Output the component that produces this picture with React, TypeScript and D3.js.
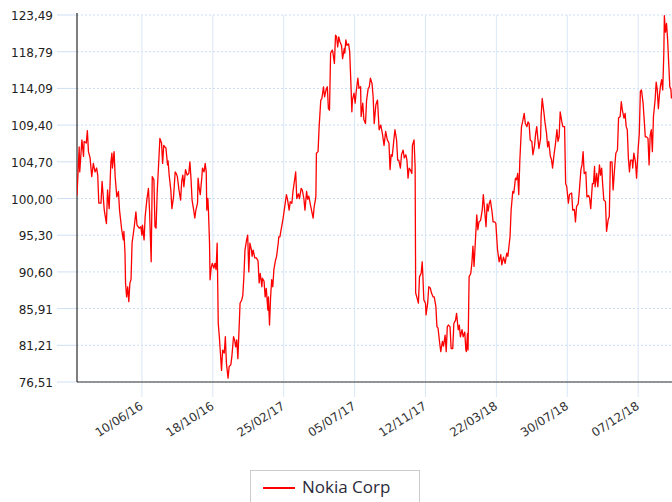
import React from 'react'
import * as d3 from 'd3'

// trading series, day offsets from the first date + closing level
const startDate = new Date(2016, 1, 12)
const totalDays = 1091

const days = [
  0, 4, 5, 9, 12, 13, 17, 19, 21, 24, 27, 30, 33, 36, 38, 40, 44, 46, 50, 53,
  54, 56, 59, 62, 64, 65, 68, 70, 73, 76, 78, 82, 85, 86, 88, 89, 91, 93, 95, 97,
  99, 101, 105, 108, 110, 114, 117, 119, 120, 123, 125, 128, 131, 133, 136, 138, 141, 143, 145, 147,
  150, 152, 155, 157, 159, 161, 163, 166, 167, 169, 172, 174, 177, 180,
  182, 184, 187, 190, 192, 194, 196, 199, 202, 205, 207, 209, 211, 214, 216, 218, 221, 222, 224, 226,
  229, 230, 233, 235, 237, 238, 240, 241, 243, 244, 246, 248, 251, 253, 255, 257, 259, 261, 263, 265,
  267, 270, 272, 274, 277, 279, 282, 284, 287, 289, 291, 293, 295, 297, 299, 302, 304, 306, 308, 311,
  313, 315, 317, 320, 321, 323, 326, 329, 332, 334, 336, 339, 340, 343, 345, 347, 350, 351, 353, 355,
  357, 359, 361, 364, 366, 369, 370, 372,
  378, 381, 384, 386, 389, 391, 394, 396, 399, 401, 403, 406, 408, 411, 413, 416, 418, 421, 423, 425,
  428, 430, 433, 435, 438, 439, 442, 444, 447, 449, 452, 454, 457, 459, 461, 463, 465, 468, 469, 472,
  474, 476, 478, 480, 482, 485, 487, 490, 491, 493, 495, 498, 500, 502, 504, 505, 508, 510, 512, 515,
  517, 520, 521, 524, 526, 529, 531, 534, 536, 538, 541, 543, 545, 548,
  551, 554, 557, 560, 563, 566, 569, 572, 574, 576, 578, 581, 583, 586, 588, 590, 593, 595, 598, 600,
  603, 605, 607, 609, 611, 614, 615, 618, 620, 621, 623, 626, 628, 631, 633, 634, 636, 639, 640, 643,
  645, 648, 650, 653, 655, 658, 660, 662, 665, 667, 670, 672, 675, 677, 679, 681, 684, 686, 689, 691,
  694, 696, 699, 701, 703, 706, 708, 711, 713, 714, 716, 717, 719, 722, 724, 726, 728, 730, 733, 735,
  737, 740, 743, 745, 747, 750, 752, 754, 756, 758, 761, 763, 766, 768,
  771, 774, 777, 779, 782, 785, 788, 790, 794, 796, 799, 801, 804, 806, 808, 810, 812, 815, 817, 820,
  822, 825, 827, 829, 831, 834, 836, 839, 841, 843, 845, 847, 850, 851, 853, 856, 858, 861, 863, 865,
  868, 870, 872, 875, 877, 880, 882, 884, 886, 889, 891, 894, 896, 898, 901, 903,
  907, 909, 912, 914, 916, 919, 921, 924, 926, 928, 930, 933, 935, 938, 940, 942, 945, 947, 949, 950,
  953, 955, 958, 960, 962, 964, 966, 969, 971, 974, 976, 978, 981, 983, 986, 988, 991, 993, 996, 998,
  1000, 1003, 1005, 1007, 1009, 1011, 1013, 1015, 1018, 1019, 1021, 1024, 1026, 1029, 1031, 1033, 1035, 1038, 1040, 1042,
  1044, 1047, 1049, 1051, 1053, 1055, 1057, 1060, 1062, 1064, 1066, 1068, 1070, 1072, 1074, 1076, 1077, 1079, 1081, 1083,
  1085, 1087, 1089, 1090,
]

const prices = [
  100.4, 106.6, 103.4, 107.5, 105.4, 107.3, 107.1, 108.7, 106.0, 105.2, 102.8, 104.5, 103.4, 103.9, 103.0, 99.4, 99.4, 102.2, 98.5, 97.2,
  96.8, 101.1, 98.7, 104.5, 105.8, 103.9, 106.0, 102.8, 100.2, 100.9, 98.5, 96.0, 94.7, 95.8, 93.0, 89.2, 87.4, 88.7, 86.8, 89.2,
  89.6, 94.3, 96.4, 98.3, 96.6, 96.2, 96.4, 95.3, 96.6, 94.7, 97.7, 99.8, 101.3, 98.5, 91.9, 102.8, 102.4, 96.4, 96.2, 100.7,
  104.9, 107.7, 107.1, 104.5, 106.8, 106.6, 106.5, 104.3, 104.8, 103.0, 101.1, 98.7, 100.2, 103.4,
  103.2, 102.8, 101.1, 99.8, 102.2, 103.0, 101.5, 103.7, 103.0, 103.2, 104.7, 102.6, 99.8, 98.5, 97.5, 98.5, 99.4, 102.6, 101.3, 100.5,
  102.8, 103.9, 103.4, 104.5, 103.4, 98.5, 100.0, 98.5, 94.3, 89.6, 91.1, 91.7, 91.1, 91.7, 90.9, 94.3, 84.0, 82.3, 80.2, 78.0,
  80.6, 80.2, 82.3, 78.9, 77.0, 78.5, 78.7, 79.8, 82.3, 81.9, 81.0, 81.9, 79.5, 83.0, 86.6, 87.0, 87.6, 90.0, 93.4, 94.7,
  95.3, 90.6, 94.3, 93.4, 92.6, 93.4, 92.4, 92.4, 92.0, 89.2, 90.4, 88.7, 89.8, 89.4, 87.4, 88.5, 85.7, 87.4, 83.8, 87.4,
  89.6, 88.7, 90.9, 92.1, 92.6, 94.3, 95.1, 95.1,
  97.5, 99.0, 100.5, 99.9, 98.5, 99.6, 99.4, 100.9, 102.4, 103.4, 100.0, 100.6, 100.0, 101.3, 101.1, 100.0, 98.5, 100.9, 99.9, 100.3,
  99.2, 98.5, 97.5, 99.0, 100.2, 105.8, 106.0, 109.2, 112.6, 112.8, 114.3, 113.0, 114.0, 114.3, 111.5, 111.3, 118.6, 119.0, 118.8, 117.3,
  120.9, 120.7, 119.4, 120.7, 120.1, 119.6, 117.9, 119.2, 118.6, 120.3, 119.6, 119.8, 118.8, 115.2, 111.1, 112.6, 113.5, 112.2, 113.7, 115.4,
  114.1, 114.3, 110.5, 112.2, 110.1, 109.6, 112.6, 114.1, 114.3, 115.4, 114.7, 113.0, 109.6, 112.0,
  112.6, 108.8, 109.4, 108.3, 106.8, 108.6, 107.5, 107.1, 103.7, 105.6, 105.4, 107.5, 108.8, 107.5, 104.9, 104.9, 103.9, 105.6, 106.2, 105.2,
  105.6, 104.9, 102.6, 103.9, 103.7, 103.2, 106.8, 107.5, 104.0, 87.9, 87.4, 86.6, 90.0, 90.4, 91.9, 90.4, 87.0, 86.6, 85.1, 86.6,
  88.7, 88.5, 87.9, 87.4, 87.4, 86.2, 83.6, 83.4, 81.5, 80.4, 81.7, 81.1, 82.5, 80.4, 83.6, 83.8, 83.6, 80.8, 80.8, 84.0,
  84.4, 85.3, 83.2, 83.8, 82.3, 83.2, 82.3, 82.9, 80.6, 80.4, 82.7, 80.6, 90.0, 90.4, 91.7, 93.9, 91.3, 93.9, 97.9, 96.0,
  97.0, 97.2, 98.5, 100.5, 98.9, 96.4, 99.3, 98.4, 99.4, 99.8, 98.3, 97.0, 97.0, 96.8,
  93.5, 91.9, 92.8, 91.5, 92.5, 91.7, 93.0, 92.6, 95.1, 98.5, 100.9, 100.7, 102.6, 102.4, 103.2, 100.5, 104.9, 109.2, 109.8, 110.9,
  109.6, 109.2, 109.8, 109.6, 107.5, 107.3, 105.6, 106.8, 108.3, 109.2, 107.7, 106.4, 107.7, 110.5, 112.8, 111.1, 109.8, 108.3, 106.6, 107.3,
  105.4, 105.0, 103.9, 105.8, 106.8, 108.8, 107.3, 107.9, 111.1, 109.8, 109.2, 109.2, 101.9, 101.5, 99.4, 100.5,
  100.7, 98.5, 98.6, 97.0, 99.0, 99.3, 100.9, 103.7, 104.3, 106.0, 103.2, 103.4, 100.2, 100.4, 100.0, 98.7, 101.9, 101.9, 104.1, 101.5,
  103.2, 101.5, 104.3, 103.0, 103.9, 101.7, 99.8, 99.6, 95.8, 97.3, 97.7, 104.7, 104.7, 101.1, 104.1, 105.8, 106.2, 110.3, 110.5, 112.4,
  111.3, 110.3, 110.9, 109.2, 108.8, 105.2, 103.4, 104.9, 104.9, 103.9, 105.8, 104.7, 102.6, 106.4, 108.3, 113.7, 113.9, 112.2, 110.1, 107.9,
  107.9, 107.7, 104.3, 108.1, 108.8, 106.0, 110.5, 112.6, 114.9, 113.9, 111.5, 113.3, 114.5, 115.2, 113.9, 118.6, 123.4, 121.3, 122.4, 120.3,
  117.3, 114.3, 114.0, 112.8,
]

const xTickLabels = ['10/06/16', '18/10/16', '25/02/17', '05/07/17', '12/11/17', '22/03/18', '30/07/18', '07/12/18']
const yTicks = [76.51, 81.21, 85.91, 90.6, 95.3, 100.0, 104.7, 109.4, 114.09, 118.79, 123.49]
const seriesName = 'Nokia Corp'

const W = 672
const H = 502
const left = 77
const right = 672
const top = 15
const bottom = 382

const parseTick = d3.timeParse('%d/%m/%y')
const fmt = (v: number) => d3.format('.2f')(v).replace('.', ',')

const App = () => {
  const x = d3
    .scaleTime()
    .domain([startDate, d3.timeDay.offset(startDate, totalDays)])
    .range([left, right])
  const y = d3.scaleLinear().domain([76.51, 123.49]).range([bottom, top])

  const points = days.map((d, i) => [d3.timeDay.offset(startDate, d), prices[i]] as [Date, number])
  const line = d3
    .line<[Date, number]>()
    .x(d => x(d[0]))
    .y(d => y(d[1]))

  return (
    <svg
      width={W}
      height={H}
      style={{ position: 'absolute', left: 0, top: 0, background: '#fff' }}
      fontFamily="'DejaVu Sans', Verdana, sans-serif"
    >
      <defs>
        <clipPath id="plot">
          <rect x={left} y={0} width={right - left} height={bottom} />
        </clipPath>
      </defs>

      {/* horizontal grid + y labels */}
      {yTicks.map(t => (
        <g key={t}>
          <line x1={57} x2={left} y1={y(t)} y2={y(t)} stroke="#cfe0f5" />
          <line
            x1={left}
            x2={right}
            y1={y(t)}
            y2={y(t)}
            stroke="#c9dcf3"
            strokeDasharray="2,2"
          />
          <text
            x={53}
            y={y(t) + 1}
            textAnchor="end"
            dominantBaseline="central"
            fontSize={12}
            fill="#222"
          >
            {fmt(t)}
          </text>
        </g>
      ))}

      {/* vertical grid + x labels */}
      {xTickLabels.map(lbl => {
        const gx = x(parseTick(lbl) as Date)
        return (
          <g key={lbl}>
            <line x1={gx} x2={gx} y1={top} y2={397} stroke="#dae7f7" />
            <text
              transform={`translate(${gx + 2},408) rotate(-33)`}
              textAnchor="end"
              fontSize={12}
              fill="#333"
            >
              {lbl}
            </text>
          </g>
        )
      })}

      {/* axes */}
      <line x1={left} x2={left} y1={13} y2={bottom} stroke="#555" strokeWidth={1.5} />
      <line x1={left} x2={right} y1={bottom} y2={bottom} stroke="#333" strokeWidth={1.2} />

      <path
        d={line(points) || ''}
        fill="none"
        stroke="#ff0000"
        strokeWidth={1.3}
        strokeLinejoin="round"
        clipPath="url(#plot)"
      />

      {/* legend */}
      <rect x={250.5} y={470.5} width={169} height={40} fill="#fff" stroke="#ccc" />
      <line x1={263} x2={295} y1={488} y2={488} stroke="#ff0000" strokeWidth={2} />
      <text x={302} y={493} fontSize={17} fontFamily="'Open Sans', sans-serif" fill="#2b2b3b">
        {seriesName}
      </text>
    </svg>
  )
}

export default App
